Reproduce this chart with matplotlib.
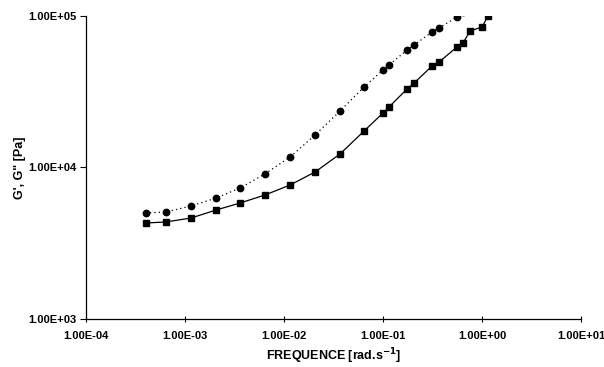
import matplotlib
matplotlib.use("Agg")
import matplotlib.pyplot as plt

plt.rcParams.update({
    "font.family": ["Liberation Sans", "DejaVu Sans"],
    "font.size": 8,
    "font.weight": "bold",
})

# frequencies (rad/s)
freq = [4.0e-4, 6.4e-4, 1.15e-3, 2.06e-3, 3.6e-3, 6.4e-3, 1.15e-2, 2.06e-2,
        3.68e-2, 6.43e-2, 0.1, 0.115, 0.175, 0.206, 0.313, 0.368, 0.558,
        0.643, 0.757, 1.0, 1.15, 1.4]

# G'' (circles, dotted)
g2 = [5010, 5085, 5570, 6290, 7320, 9060, 11730, 16400, 23600, 33970,
      44000, 47500, 59700, 64400, 78400, 83400, 98500, 106000]

# G' (squares, solid)
g1 = [4300, 4370, 4640, 5240, 5830, 6580, 7660, 9340, 12280, 17400,
      22900, 25100, 33000, 36100, 46800, 49700, 62400, 66400, 79600,
      84600, 100000, 110000]

xticks = [1e-4, 1e-3, 1e-2, 1e-1, 1e0, 1e1]
yticks = [1e3, 1e4, 1e5]

fig = plt.figure(figsize=(6.04, 3.67), dpi=100)
ax = fig.add_axes([0.1424, 0.1308, 0.8196, 0.8256])

ax.plot(freq[:len(g2)], g2, color="black", linestyle=(0, (1, 2.5)), linewidth=0.9,
        marker="o", markersize=4.6)
ax.plot(freq[:len(g1)], g1, color="black", linestyle="-", linewidth=0.9,
        marker="s", markersize=5.0)

ax.set_xscale("log")
ax.set_yscale("log")
ax.set_xlim(1e-4, 1e1)
ax.set_ylim(1e3, 1e5)
ax.set_xticks(xticks)
ax.set_yticks(yticks)
ax.set_xticklabels([f"{t:.2E}" for t in xticks])
ax.set_yticklabels([f"{t:.2E}" for t in yticks])
ax.minorticks_off()

ax.spines["top"].set_visible(False)
ax.spines["right"].set_visible(False)
ax.spines["left"].set_linewidth(0.9)
ax.spines["bottom"].set_linewidth(0.9)
ax.tick_params(axis="y", direction="out", length=4, width=0.8, pad=3)
ax.tick_params(axis="x", direction="inout", length=5, width=0.8, pad=6)

ax.set_xlabel("FREQUENCE [rad.s$^{\\mathbf{-1}}$]", fontsize=9, fontweight="bold",
              va="center")
ax.set_ylabel("G', G\" [Pa]", fontsize=9, fontweight="bold", va="center")
ax.xaxis.set_label_coords(0.5, -0.122)
ax.yaxis.set_label_coords(-0.133, 0.5)

fig.savefig("out.png", dpi=100)
